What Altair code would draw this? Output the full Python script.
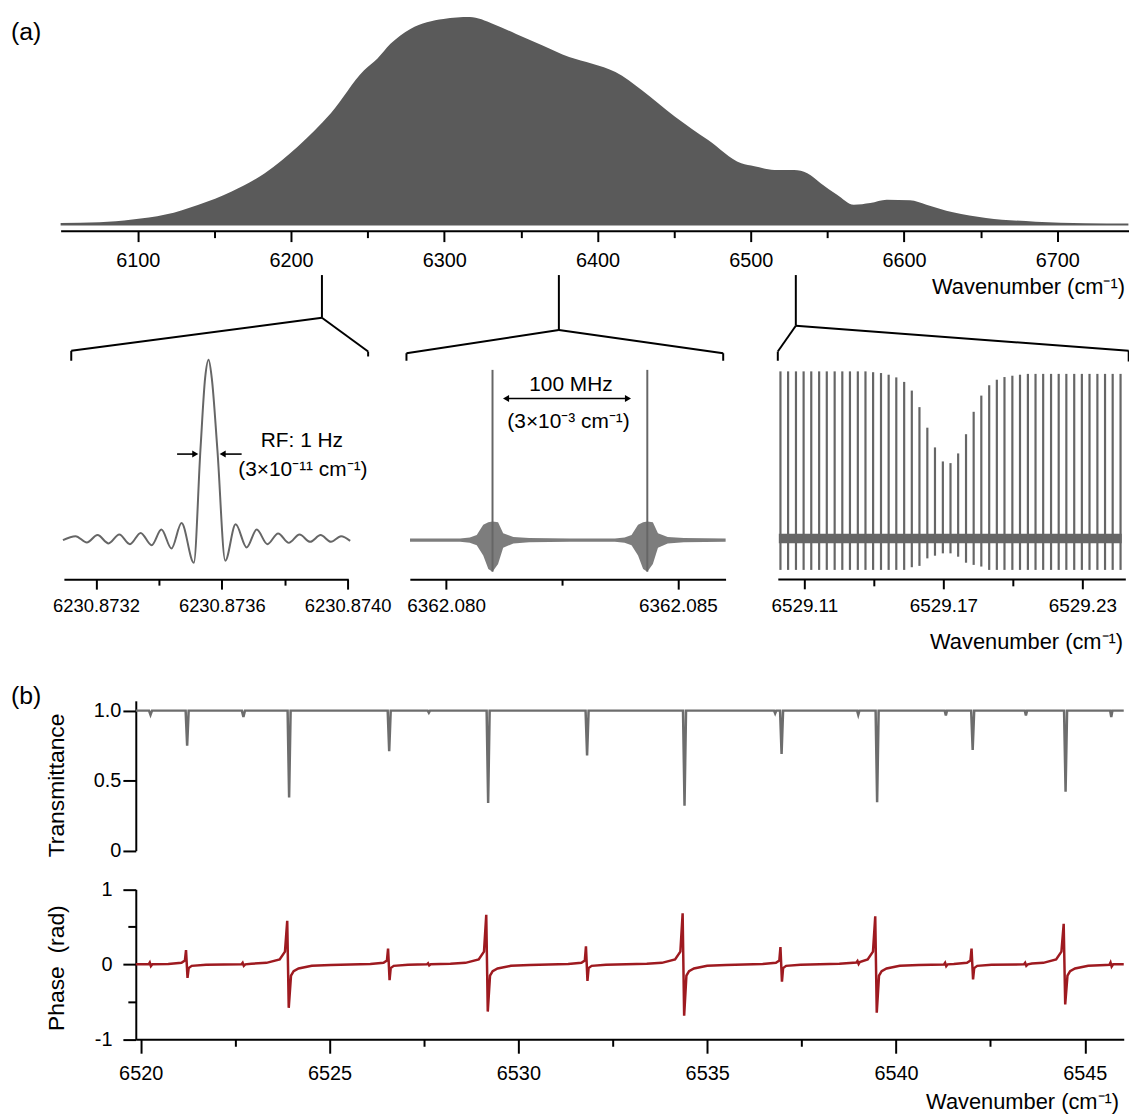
import altair as alt
import pandas as pd

# ---------------------------------------------------------------- data
# (a) top: envelope of the comb spectrum
TOP_WN = [6049.7, 6075.0, 6096.5, 6118.1, 6139.7, 6161.3, 6182.9, 6204.5, 6226.0, 6247.7,
          6256.3, 6264.9, 6277.9, 6299.5, 6316.7, 6331.9, 6346.9, 6364.2, 6381.5, 6396.6,
          6411.7, 6429.0, 6450.6, 6472.2, 6493.8, 6502.4, 6515.4, 6528.3, 6536.9, 6545.6,
          6556.3, 6567.2, 6578.0, 6588.7, 6603.9, 6614.6, 6631.9, 6653.5, 6685.9, 6718.3, 6746.4]
TOP_I = [0.005, 0.008, 0.021, 0.045, 0.093, 0.157, 0.245, 0.374, 0.534, 0.742,
         0.798, 0.870, 0.942, 0.990, 0.999, 0.966, 0.918, 0.862, 0.806, 0.774,
         0.734, 0.646, 0.518, 0.405, 0.293, 0.279, 0.261, 0.261, 0.245, 0.197,
         0.141, 0.093, 0.101, 0.117, 0.114, 0.093, 0.056, 0.029, 0.011, 0.003, 0.0015]
TOP_TICKS = [6100, 6200, 6300, 6400, 6500, 6600, 6700]
TOP_MINOR = [6150, 6250, 6350, 6450, 6550, 6650]
ZOOM_MARKS = [6220.2, 6374.8, 6529.4]   # where the three zooms are taken

# (a) left inset: single mode (sinc-like)
LEFT_WN = [6230.873095, 6230.873135, 6230.873171, 6230.873205, 6230.873240, 6230.873274,
           6230.873308, 6230.873342, 6230.873377, 6230.873408, 6230.873440, 6230.873472,
           6230.873511, 6230.873532, 6230.873547, 6230.873558, 6230.873568, 6230.873586,
           6230.873611, 6230.873644, 6230.873679, 6230.873711, 6230.873745, 6230.873779,
           6230.873813, 6230.873847, 6230.873881, 6230.873914, 6230.873947, 6230.873979,
           6230.874008]
LEFT_AMP = [0.0, 0.022, -0.013, 0.028, -0.018, 0.031,
            -0.022, 0.040, -0.028, 0.059, -0.046, 0.095,
            -0.125, 0.50, 0.90, 1.0, 0.90, 0.50,
            -0.114, 0.088, -0.040, 0.059, -0.022, 0.037,
            -0.015, 0.031, -0.009, 0.028, -0.009, 0.022,
            -0.004]
LEFT_TICKS = [6230.8732, 6230.8736, 6230.8740]
LEFT_MINOR = [6230.8734, 6230.8738]

# (a) middle inset: two modes, ringing envelope
MID_WN = [6362.07922, 6362.08030, 6362.08051, 6362.08066, 6362.08080, 6362.08091, 6362.08100,
          6362.08112, 6362.08123, 6362.08145, 6362.08179, 6362.08267, 6362.08364, 6362.08385,
          6362.08400, 6362.08414, 6362.08425, 6362.08434, 6362.08446, 6362.08457, 6362.08478,
          6362.08513, 6362.08603]
MID_HI = [0.01, 0.01, 0.015, 0.03, 0.09, 0.105, 0.11, 0.105, 0.04, 0.019, 0.012, 0.01,
          0.01, 0.015, 0.03, 0.09, 0.105, 0.11, 0.105, 0.04, 0.019, 0.012, 0.01]
MID_LO = [-0.01, -0.01, -0.015, -0.03, -0.09, -0.17, -0.185, -0.14, -0.045, -0.019, -0.012, -0.01,
          -0.01, -0.015, -0.03, -0.09, -0.17, -0.185, -0.14, -0.045, -0.019, -0.012, -0.01]
MID_PEAK_WN = [6362.08100, 6362.08434]
MID_PEAK_TOP = [1.0, 1.0]
MID_PEAK_BOT = [-0.185, -0.185]
MID_TICKS = [6362.080, 6362.085]
MID_MINOR = [6362.0825]

# (a) right inset: comb teeth across an absorption line
RIGHT_WN = [6529.0997, 6529.1030, 6529.1064, 6529.1097, 6529.1130, 6529.1164, 6529.1197, 6529.1231,
            6529.1264, 6529.1297, 6529.1331, 6529.1364, 6529.1397, 6529.1431, 6529.1464, 6529.1497,
            6529.1531, 6529.1564, 6529.1597, 6529.1631, 6529.1664, 6529.1698, 6529.1731, 6529.1764,
            6529.1798, 6529.1831, 6529.1864, 6529.1898, 6529.1931, 6529.1964, 6529.1998, 6529.2031,
            6529.2065, 6529.2098, 6529.2131, 6529.2165, 6529.2198, 6529.2231, 6529.2265, 6529.2298,
            6529.2331, 6529.2365, 6529.2398, 6529.2431, 6529.2465]
RIGHT_TOP = [1.0, 1.0, 1.0, 1.0, 1.0, 1.0, 1.0, 1.0, 1.0, 1.0, 1.0, 1.0, 0.995, 0.99, 0.98, 0.964,
             0.937, 0.885, 0.786, 0.663, 0.545, 0.461, 0.451, 0.509, 0.624, 0.758, 0.855, 0.917,
             0.950, 0.966, 0.974, 0.98, 0.985, 0.985, 0.985, 0.985, 0.985, 0.985, 0.985, 0.985,
             0.985, 0.985, 0.985, 0.985, 0.985]
RIGHT_BOT = [-0.188, -0.188, -0.188, -0.188, -0.188, -0.188, -0.188, -0.188, -0.188, -0.188,
             -0.188, -0.188, -0.188, -0.188, -0.188, -0.188, -0.188, -0.172, -0.164, -0.119,
             -0.103, -0.089, -0.089, -0.109, -0.145, -0.158, -0.168, -0.188, -0.188, -0.188,
             -0.188, -0.188, -0.188, -0.188, -0.188, -0.188, -0.188, -0.188, -0.188, -0.188,
             -0.188, -0.188, -0.188, -0.188, -0.188]
RIGHT_BAND_WN = [6529.0990, 6529.2470]
RIGHT_BAND_HI = [0.028, 0.028]
RIGHT_BAND_LO = [-0.028, -0.028]
RIGHT_TICKS = [6529.11, 6529.17, 6529.23]
RIGHT_MINOR = [6529.14, 6529.20]

# (b) transmittance
TRANS_WN = [6519.87, 6520.22, 6520.26, 6520.30, 6521.19, 6521.23, 6521.27, 6522.68, 6522.72, 6522.76,
            6523.89, 6523.93, 6523.97, 6526.54, 6526.58, 6526.62, 6527.60, 6527.63, 6527.66,
            6529.16, 6529.20, 6529.24, 6531.78, 6531.82, 6531.86, 6534.36, 6534.40, 6534.44,
            6536.77, 6536.80, 6536.83, 6536.93, 6536.97, 6537.01, 6538.97, 6539.00, 6539.03,
            6539.46, 6539.50, 6539.54, 6541.29, 6541.32, 6541.35, 6541.99, 6542.03, 6542.07,
            6543.41, 6543.44, 6543.47, 6544.45, 6544.49, 6544.53, 6545.67, 6545.70, 6545.73, 6546.03]
TRANS_T = [1.0, 1.0, 0.97, 1.0, 1.0, 0.75, 1.0, 1.0, 0.955, 1.0,
           1.0, 0.38, 1.0, 1.0, 0.71, 1.0, 1.0, 0.985, 1.0,
           1.0, 0.34, 1.0, 1.0, 0.68, 1.0, 1.0, 0.32, 1.0,
           1.0, 0.98, 1.0, 1.0, 0.69, 1.0, 1.0, 0.97, 1.0,
           1.0, 0.345, 1.0, 1.0, 0.965, 1.0, 1.0, 0.72, 1.0,
           1.0, 0.965, 1.0, 1.0, 0.42, 1.0, 1.0, 0.955, 1.0, 1.0]

# (b) phase
PHASE_WN = [6519.87, 6520.21, 6520.24, 6520.27, 6520.31,
            6520.73, 6521.08, 6521.17, 6521.20, 6521.24, 6521.27, 6521.35, 6521.73,
            6522.67, 6522.70, 6522.73, 6522.77,
            6522.93, 6523.33, 6523.68, 6523.82, 6523.88, 6523.92, 6523.98, 6524.05, 6524.18, 6524.53, 6525.03,
            6526.08, 6526.43, 6526.52, 6526.55, 6526.59, 6526.62, 6526.70, 6527.08,
            6527.58, 6527.61, 6527.64, 6527.68,
            6528.20, 6528.60, 6528.95, 6529.09, 6529.15, 6529.19, 6529.25, 6529.32, 6529.45, 6529.80, 6530.30,
            6531.32, 6531.67, 6531.76, 6531.79, 6531.83, 6531.86, 6531.94, 6532.32,
            6533.40, 6533.80, 6534.15, 6534.29, 6534.35, 6534.39, 6534.45, 6534.52, 6534.65, 6535.00, 6535.50,
            6536.47, 6536.82, 6536.91, 6536.94, 6536.98, 6537.01, 6537.09, 6537.47,
            6538.50, 6538.95, 6538.98, 6539.01, 6539.04, 6539.25, 6539.39, 6539.45, 6539.49, 6539.55,
            6539.62, 6539.75, 6540.10, 6540.60,
            6541.27, 6541.30, 6541.33, 6541.37,
            6541.53, 6541.88, 6541.97, 6542.00, 6542.04, 6542.07, 6542.15, 6542.53,
            6543.39, 6543.42, 6543.45, 6543.49,
            6543.60, 6543.90, 6544.24, 6544.38, 6544.44, 6544.48, 6544.54, 6544.61, 6544.74, 6545.09, 6545.55,
            6545.65, 6545.68, 6545.71, 6545.75, 6546.03]
PHASE_RAD = [0.0, 0.0, 0.025, -0.025, 0.0,
             0.005, 0.02, 0.05, 0.19, -0.18, -0.05, -0.02, -0.005,
             0.0, 0.02, -0.02, 0.0,
             0.008, 0.02, 0.065, 0.17, 0.58, -0.58, -0.15, -0.09, -0.055, -0.02, -0.008,
             0.005, 0.02, 0.05, 0.21, -0.21, -0.05, -0.02, -0.005,
             0.0, 0.015, -0.015, 0.0,
             0.008, 0.02, 0.065, 0.17, 0.66, -0.63, -0.15, -0.09, -0.055, -0.02, -0.008,
             0.005, 0.02, 0.05, 0.24, -0.22, -0.05, -0.02, -0.005,
             0.008, 0.02, 0.065, 0.17, 0.68, -0.685, -0.15, -0.09, -0.055, -0.02, -0.008,
             0.005, 0.02, 0.05, 0.23, -0.23, -0.05, -0.02, -0.005,
             0.008, 0.025, 0.045, 0.005, 0.03, 0.065, 0.17, 0.64, -0.645, -0.15,
             -0.09, -0.055, -0.02, -0.008,
             -0.002, 0.02, -0.025, 0.0,
             0.005, 0.02, 0.05, 0.21, -0.20, -0.05, -0.02, -0.005,
             0.0, 0.02, -0.02, 0.0,
             0.01, 0.02, 0.065, 0.17, 0.54, -0.535, -0.15, -0.09, -0.055, -0.02, -0.008,
             -0.005, 0.025, -0.03, 0.0, 0.0]
B_TICKS = [6520, 6525, 6530, 6535, 6540, 6545]
B_MINOR = [6522.5, 6527.5, 6532.5, 6537.5, 6542.5]
T_TICKS = [0, 0.5, 1.0]
P_TICKS = [-1, 0, 1]
P_MINOR = [-0.5, 0.5]

XLABEL = "Wavenumber (cm\u207b\u00b9)"

# ---------------------------------------------------------------- layout / style
W, H = 1129, 1111
FONT = "Liberation Sans"
GRAY_AREA = "#5a5a5a"
GRAY_LINE = "#666666"
RED = "#9e1a20"


def cx(v):
    return v - 8


def cy(v):
    return v - 8


def xs(domain, x0, x1):
    return alt.Scale(domain=domain, range=[cx(x0), cx(x1)], nice=False, zero=False)


def ys(domain, y0, y1):
    return alt.Scale(domain=domain, range=[cy(y0), cy(y1)], nice=False, zero=False)


AX = dict(domainColor="black", domainWidth=2, tickColor="black", tickWidth=2,
          labelColor="black", labelFont=FONT, grid=False, title=None,
          labelFlush=False, labelOverlap=False)


def xaxis(values, y_img, tick, size=20, pad=10, fmt=None, labels=True, domain=True):
    kw = dict(AX)
    kw.update(orient="bottom", offset=cy(y_img) - H, values=values, tickSize=tick,
              labelFontSize=size, labelPadding=pad, labels=labels, domain=domain)
    if fmt:
        kw["format"] = fmt
    return alt.Axis(**kw)


def yaxis(values, x_img, tick, size=20, pad=2, expr=None, labels=True, domain=True):
    kw = dict(AX)
    kw.update(orient="left", offset=-cx(x_img), values=values, tickSize=tick,
              labelFontSize=size, labelPadding=pad, labels=labels, domain=domain)
    if expr:
        kw["labelExpr"] = expr
    return alt.Axis(**kw)


ONE = alt.Data(values=[{"k": 0}])


def seg(x1, y1, x2, y2, w=2):
    return alt.Chart(ONE).mark_rule(color="black", strokeWidth=w).encode(
        x=alt.value(cx(x1)), y=alt.value(cy(y1)), x2=alt.value(cx(x2)), y2=alt.value(cy(y2)))


def head(x, y, shape):
    return alt.Chart(ONE).mark_point(shape=shape, filled=True, size=50, color="black",
                                     opacity=1).encode(x=alt.value(cx(x)), y=alt.value(cy(y)))


def txt(s, x, y, size=21, align="center", angle=0):
    return alt.Chart(alt.Data(values=[{"t": s}])).mark_text(
        font=FONT, fontSize=size, align=align, baseline="middle", angle=angle, color="black"
    ).encode(x=alt.value(cx(x)), y=alt.value(cy(y)), text="t:N")


def minor_x(values, scale, y_img, tick):
    return alt.Chart(pd.DataFrame({"v": values})).mark_point(opacity=0).encode(
        x=alt.X("v:Q", scale=scale, axis=xaxis(values, y_img, tick, labels=False, domain=False)),
        y=alt.value(0))


layers = []

# ---- (a) top spectrum
top_x = xs([6049.7, 6746.6], 61, 1136.7)
top_y = ys([0, 1], 221.5, 13)
top_df = pd.DataFrame({"wn": TOP_WN, "inten": TOP_I})
top_df["base"] = -0.008
layers.append(alt.Chart(top_df).mark_area(color=GRAY_AREA, interpolate="monotone").encode(
    x=alt.X("wn:Q", scale=top_x, axis=xaxis(TOP_TICKS, 228.3, 11, 20, 9, "d")),
    y=alt.Y("inten:Q", scale=top_y, axis=None),
    y2="base:Q"))
layers.append(minor_x(TOP_MINOR, top_x, 228.3, 7))

# ---- left inset
lx = xs([6230.873098, 6230.874002], 64.3, 350.7)
ly = ys([0, 1], 540, 358.3)
layers.append(alt.Chart(pd.DataFrame({"wn": LEFT_WN, "a": LEFT_AMP})).mark_line(
    color=GRAY_LINE, strokeWidth=2, interpolate="monotone").encode(
    x=alt.X("wn:Q", scale=lx, axis=xaxis(LEFT_TICKS, 579.3, 10, 18.5, 8, ".4f")),
    y=alt.Y("a:Q", scale=ly, axis=None)))
layers.append(minor_x(LEFT_MINOR, lx, 579.3, 6))

# ---- middle inset
mx = xs([6362.079216, 6362.086029], 412.7, 730.7)
my = ys([0, 1], 540, 368.5)
layers.append(alt.Chart(pd.DataFrame({"wn": MID_WN, "hi": MID_HI, "lo": MID_LO})).mark_area(
    color=GRAY_LINE, opacity=0.85).encode(
    x=alt.X("wn:Q", scale=mx, axis=xaxis(MID_TICKS, 579.3, 10, 19, 8, ".3f")),
    y=alt.Y("hi:Q", scale=my, axis=None), y2="lo:Q"))
layers.append(alt.Chart(pd.DataFrame({"wn": MID_PEAK_WN, "t": MID_PEAK_TOP, "b": MID_PEAK_BOT}))
              .mark_rule(color=GRAY_LINE, strokeWidth=2).encode(
    x=alt.X("wn:Q", scale=mx, axis=None), y=alt.Y("t:Q", scale=my, axis=None), y2="b:Q"))
layers.append(minor_x(MID_MINOR, mx, 579.3, 6))

# ---- right inset
rx = xs([6529.09856, 6529.24856], 783.3, 1133.3)
ry = ys([0, 1], 538.3, 370)
layers.append(alt.Chart(pd.DataFrame({"wn": RIGHT_BAND_WN, "hi": RIGHT_BAND_HI, "lo": RIGHT_BAND_LO}))
              .mark_area(color=GRAY_LINE).encode(
    x=alt.X("wn:Q", scale=rx, axis=xaxis(RIGHT_TICKS, 579.0, 10, 19, 8, ".2f")),
    y=alt.Y("hi:Q", scale=ry, axis=None), y2="lo:Q"))
layers.append(alt.Chart(pd.DataFrame({"wn": RIGHT_WN, "t": RIGHT_TOP, "b": RIGHT_BOT}))
              .mark_rule(color=GRAY_LINE, strokeWidth=2.2).encode(
    x=alt.X("wn:Q", scale=rx, axis=None), y=alt.Y("t:Q", scale=ry, axis=None), y2="b:Q"))
layers.append(minor_x(RIGHT_MINOR, rx, 579.0, 7))

# ---- zoom brackets (start points sit at ZOOM_MARKS on the top axis)
def top_px(v):
    return 61 + (v - 6049.7) / (6746.6 - 6049.7) * (1136.7 - 61)


bl, bm, br = [top_px(v) for v in ZOOM_MARKS]
for s in [
    (bl, 273, bl, 316), (bl, 316, 71.7, 349.3), (71.7, 349.3, 71.7, 359.3),
    (bl, 316, 370.7, 350), (370.7, 350, 370.7, 355),
    (bm, 273, bm, 328.3), (bm, 328.3, 409.3, 351.7), (409.3, 351.7, 409.3, 359.3),
    (bm, 328.3, 728.3, 351.7), (728.3, 351.7, 728.3, 359.3),
    (br, 273, br, 324), (br, 324, 783.3, 350), (783.3, 350, 783.3, 359.3),
    (br, 324, 1136.7, 349.3), (1136.7, 349.3, 1136.7, 360),
]:
    layers.append(seg(*s))

# ---- inset annotations
layers += [
    seg(178.3, 453.3, 197, 453.3, 1.6), head(196.6, 453.3, "triangle-right"),
    seg(243.3, 453.3, 224, 453.3, 1.6), head(224.2, 453.3, "triangle-left"),
    txt("RF: 1 Hz", 304, 440), txt("(3\u00d710\u207b\u00b9\u00b9 cm\u207b\u00b9)", 305, 469),
    seg(510, 397.3, 632, 397.3, 1.6), head(509.6, 397.3, "triangle-left"),
    head(632.4, 397.3, "triangle-right"),
    txt("100 MHz", 575, 383.5), txt("(3\u00d710\u207b\u00b3 cm\u207b\u00b9)", 572.5, 421),
]

# ---- (b) transmittance
bx = xs([6519.87, 6546.03], 136.7, 1131.7)
ty = ys([0, 1.07], 852.7, 701.8)
layers.append(alt.Chart(pd.DataFrame({"wn": TRANS_WN, "t": TRANS_T})).mark_line(
    color="#6d6d6d", strokeWidth=2.5).encode(
    x=alt.X("wn:Q", scale=bx, axis=None),
    y=alt.Y("t:Q", scale=ty, axis=yaxis(
        T_TICKS, 136.7, 13, 20, 2, "datum.value == 0 ? '0' : format(datum.value, '.1f')"))))

# ---- (b) phase
py = ys([-1, 1], 1042.7, 891.7)
layers.append(alt.Chart(pd.DataFrame({"wn": PHASE_WN, "p": PHASE_RAD})).mark_line(
    color=RED, strokeWidth=2.5).encode(
    x=alt.X("wn:Q", scale=bx, axis=xaxis(B_TICKS, 1042.7, 14, 20, 10, "d")),
    y=alt.Y("p:Q", scale=py, axis=yaxis(
        P_TICKS, 136.7, 13, 20, 11,
        "datum.value < 0 ? '-' + format(-datum.value, 'd') : format(datum.value, 'd')"))))
layers.append(minor_x(B_MINOR, bx, 1042.7, 7))
layers.append(alt.Chart(pd.DataFrame({"v": P_MINOR})).mark_point(opacity=0).encode(
    y=alt.Y("v:Q", scale=py, axis=yaxis(P_MINOR, 136.7, 8, labels=False, domain=False)),
    x=alt.value(0)))

# ---- titles and panel labels
layers += [
    txt("(a)", 11, 28, 25, "left"),
    txt("(b)", 11, 697, 25, "left"),
    txt(XLABEL, 1133, 285, 22, "right"),
    txt(XLABEL, 1131, 643, 22, "right"),
    txt(XLABEL, 1127, 1106, 22, "right"),
    txt("Transmittance", 57, 787, 23, "center", 270),
    txt("Phase\u00a0\u00a0(rad)", 57, 971, 23, "center", 270),
]

chart = alt.layer(*layers).resolve_scale(x="independent", y="independent").properties(
    width=W, height=H, autosize=alt.AutoSizeParams(type="none"), padding=0
).configure_view(stroke=None)

chart.save("out.html", embed_options={"renderer": "svg", "actions": False})
